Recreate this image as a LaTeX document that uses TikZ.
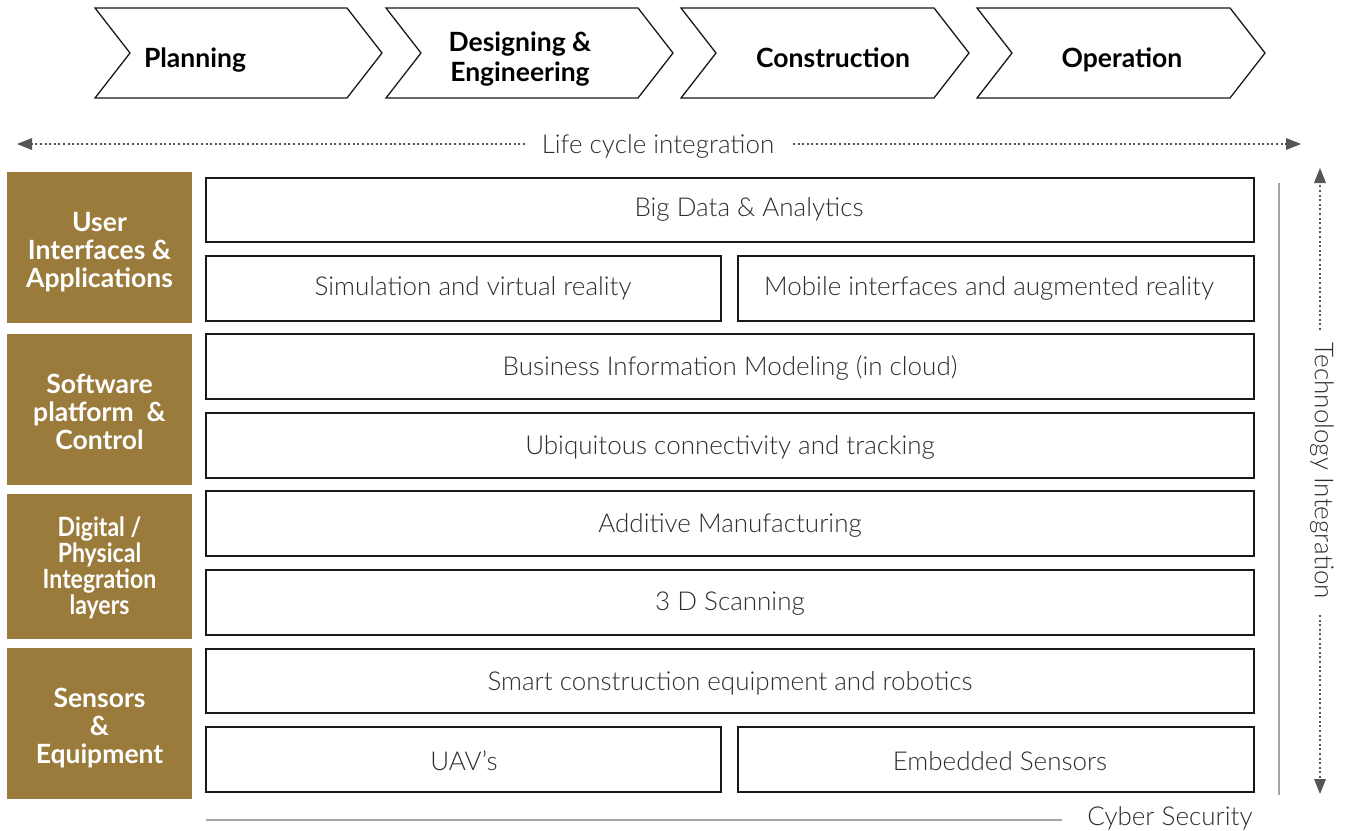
\documentclass[tikz,border=0pt]{standalone}
\usepackage{fontspec}
\setmainfont{Lato}
\newfontfamily\lightfont{Lato Light}
\usetikzlibrary{arrows.meta}
\definecolor{gold}{RGB}{154,123,60}
\definecolor{bodytxt}{RGB}{45,45,45}
\definecolor{dotc}{RGB}{85,85,85}
\definecolor{rulec}{RGB}{165,165,165}
\tikzset{
  chev/.style={draw=black!90, line width=1.3pt, fill=white},
  chevtxt/.style={font=\bfseries\fontsize{26.5}{30}\selectfont, align=center, text=black},
  layer/.style={fill=gold, text=white, font=\bfseries\fontsize{26.5}{28}\selectfont, align=center, inner sep=0pt},
  layertxt/.style={text=white, font=\bfseries\fontsize{26.5}{28}\selectfont, align=center, inner sep=0pt},
  techbox/.style={draw=black!90, line width=1.3pt, fill=white, inner sep=0pt},
  techtxt/.style={text=bodytxt, font=\lightfont\fontsize{26}{28}\selectfont, inner sep=0pt},
  dotline/.style={draw=dotc, line width=2pt, dash pattern=on 2pt off 2.6pt},
  plain/.style={font=\lightfont\fontsize{26}{28}\selectfont, text=bodytxt},
}
\begin{document}
\begin{tikzpicture}[x=1pt,y=-1pt]
\useasboundingbox (0,0) rectangle (1346,830);
% chevrons
\foreach \l/\r in {95/382, 386/673, 681/969, 977/1265}{
  \draw[chev] (\l,8) -- (\r-35,8) -- (\r,53) -- (\r-35,98) -- (\l,98) -- (\l+35,53) -- cycle;
}
\node[chevtxt] (c1) at (195,60) {Planning};
\node[chevtxt] (c2) at (520,59.5) {Designing \&\\Engineering};
\node[chevtxt] (c3) at (833,58) {Construction};
\node[chevtxt] (c4) at (1122,60) {Operation};
% life cycle
\node[plain] (lc) at (658,146) {Life cycle integration};
\coordinate (lcL) at (17,144);
\coordinate (lcR) at (1301,144);
\coordinate (lcA) at (525,144);
\coordinate (lcB) at (793,144);
\draw[dotline] (lcA) -- ([xshift=14pt]lcL);
\draw[dotline] (lcB) -- ([xshift=-14pt]lcR);
\fill[dotc] (lcL) -- ++(15,-6) -- ++(0,12) -- cycle;
\fill[dotc] (lcR) -- ++(-15,-6) -- ++(0,12) -- cycle;
% layers
\node[layer, minimum width=185pt, minimum height=151pt] (L1) at (99.5,247.5) {};
\node[layertxt] (L1t) at (99.5,252) {User\\Interfaces \&\\Applications};
\node[layer, minimum width=185pt, minimum height=151pt] (L2) at (99.5,409.5) {};
\node[layertxt] (L2t) at (99.5,412) {Software\\platform~ \&\\Control};
\node[layer, minimum width=185pt, minimum height=145pt] (L3) at (99.5,566.5) {};
\node[layertxt, font=\bfseries\fontsize{26.5}{26}\selectfont] (L3t) at (99.5,570) {\scalebox{0.87}[1]{\begin{tabular}{@{}c@{}}Digital /\\[-1.5pt]Physical\\[-1.5pt]Integration\\[-1.5pt]layers\end{tabular}}};
\node[layer, minimum width=185pt, minimum height=151pt] (L4) at (99.5,723.5) {};
\node[layertxt] (L4t) at (99.5,728.5) {Sensors\\\&\\Equipment};
% tech boxes
\node[techbox, minimum width=1048pt, minimum height=64pt] (b1) at (730,210) {};
\node[techtxt] (b1t) at (749,209) {Big Data \& Analytics};
\node[techbox, minimum width=515pt, minimum height=65pt] (b2a) at (463.5,288.5) {};
\node[techtxt] (b2at) at (473,288.5) {Simulation and virtual reality};
\node[techbox, minimum width=516pt, minimum height=65pt] (b2b) at (996,288.5) {};
\node[techtxt] (b2bt) at (989,288.5) {Mobile interfaces and augmented reality};
\node[techbox, minimum width=1048pt, minimum height=65pt] (b3) at (730,366.5) {};
\node[techtxt] (b3t) at (730,368) {Business Information Modeling (in cloud)};
\node[techbox, minimum width=1048pt, minimum height=65pt] (b4) at (730,445.5) {};
\node[techtxt] (b4t) at (730,447) {Ubiquitous connectivity and tracking};
\node[techbox, minimum width=1048pt, minimum height=65pt] (b5) at (730,523.5) {};
\node[techtxt] (b5t) at (730,525) {Additive Manufacturing};
\node[techbox, minimum width=1048pt, minimum height=65pt] (b6) at (730,602.5) {};
\node[techtxt] (b6t) at (730,604) {3 D Scanning};
\node[techbox, minimum width=1048pt, minimum height=64pt] (b7) at (730,681) {};
\node[techtxt] (b7t) at (730,683) {Smart construction equipment and robotics};
\node[techbox, minimum width=515pt, minimum height=65pt] (b8a) at (463.5,759.5) {};
\node[techtxt] (b8at) at (464,761) {UAV’s};
\node[techbox, minimum width=516pt, minimum height=65pt] (b8b) at (996,759.5) {};
\node[techtxt] (b8bt) at (1000,761) {Embedded Sensors};
% gray rules
\coordinate (vt) at (1279,183);
\coordinate (vb) at (1279,795);
\draw[rulec, line width=2.5pt] (vt) -- (vb);
\coordinate (hl) at (206,820);
\coordinate (hr) at (1062,820);
\draw[rulec, line width=2.5pt] (hl) -- (hr);
\node[plain, anchor=east] (cs) at (1256,818) {Cyber Security};
% technology integration
\node[plain, rotate=-90] (ti) at (1322,471) {Technology Integration};
\coordinate (tiT) at (1320,168);
\coordinate (tiB) at (1320,794);
\coordinate (tiA) at (1320,330);
\coordinate (tiC) at (1320,615);
\draw[dotline] (tiA) -- ([yshift=-14pt]tiT);
\draw[dotline] (tiC) -- ([yshift=14pt]tiB);
\fill[dotc] (tiT) -- ++(-6,15) -- ++(12,0) -- cycle;
\fill[dotc] (tiB) -- ++(-6,-15) -- ++(12,0) -- cycle;
\end{tikzpicture}
\end{document}
